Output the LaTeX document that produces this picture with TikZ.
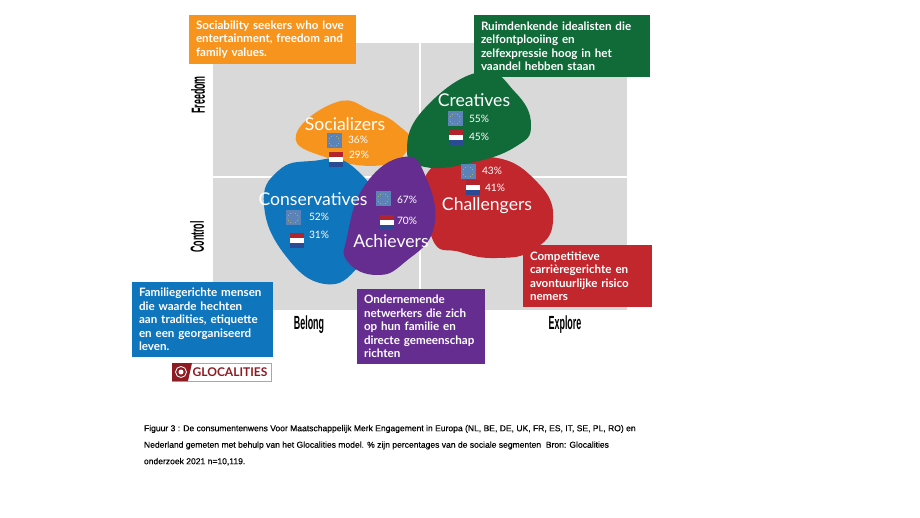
\documentclass[tikz,border=0pt]{standalone}
\usepackage{fontspec}
\setmainfont{Lato}
\newfontfamily\captionfont[FakeBold=0.35]{Liberation Sans}
\newfontfamily\axisfont{Liberation Sans}
\usetikzlibrary{calc}

\definecolor{orangeseg}{HTML}{F7941E}
\definecolor{blueseg}{HTML}{0F75BC}
\definecolor{greenseg}{HTML}{106B39}
\definecolor{redseg}{HTML}{C1272D}
\definecolor{purpleseg}{HTML}{662D91}
\definecolor{panelgrey}{HTML}{D9D9D9}
\definecolor{eublue}{HTML}{5B83B8}
\definecolor{nlred}{HTML}{B2232E}
\definecolor{nlblue}{HTML}{2B4A94}
\definecolor{logored}{HTML}{8E1B22}

\begin{document}
\begin{tikzpicture}[x=1pt, y=-1pt, every node/.style={align=center, outer sep=0pt}]

% styles
\tikzset{
  panel/.style={fill=panelgrey, draw=none},
  blob/.style={fill=#1, draw=none},
  infobox/.style={rectangle, fill=#1, text=white, anchor=north west, align=left, inner xsep=7pt, inner ysep=0pt, font=\bfseries\fontsize{11.6}{13.5}\selectfont},
  seglabel/.style={text=white, inner sep=0pt, font=\fontsize{17.6}{19}\selectfont},
  pct/.style={text=white, inner sep=0pt, font=\fontsize{10.2}{11}\selectfont},
  axislabel/.style={inner sep=0pt, text=black, font=\axisfont\bfseries\fontsize{19}{20}\selectfont},
  euflag/.pic={
    \fill[eublue] (-7.5,-7.5) rectangle (7.5,7.5);
    \foreach \a in {0,30,...,330} \fill[yellow!50!eublue] (\a:5.2) circle (0.45);
  },
  nlflag/.pic={
    \fill[nlred] (-7,-7.5) rectangle (7,-2.5);
    \fill[white] (-7,-2.5) rectangle (7,2.5);
    \fill[nlblue] (-7,2.5) rectangle (7,7.5);
  }
}

\useasboundingbox (0,0) rectangle (920,518);

% grey quadrants
\fill[panel] (213,43) rectangle (419,176);
\fill[panel] (421,43) rectangle (627,176);
\fill[panel] (213,178) rectangle (419,310);
\fill[panel] (421,178) rectangle (627,310);

% segments, back to front
\fill[blob=orangeseg] plot[smooth cycle, tension=0.8] coordinates {(296,135) (337,102) (372,111) (398,125) (410,144) (383,165) (325,157)};
\fill[blob=blueseg] plot[smooth cycle, tension=0.8] coordinates {(264,205) (278,171) (312,161) (352,166) (385,220) (360,265) (325,284) (285,255)};
\fill[blob=redseg] plot[smooth cycle, tension=0.8] coordinates {(428,172) (490,157) (538,183) (553,222) (533,250) (497,258) (460,252) (432,238)};
\fill[blob=greenseg] plot[smooth cycle, tension=0.8] coordinates {(407,150) (425,108) (480,72) (515,92) (531,125) (515,147) (470,163) (425,167)};
\fill[blob=purpleseg] plot[smooth cycle, tension=0.8] coordinates {(403,157) (425,175) (434,227) (405,262) (377,275) (348,262) (347,237) (365,185)};

% segment names
\node[seglabel] (socializers) at (345,124) {Socializers};
\node[seglabel] (creatives) at (474,100) {Creatives};
\node[seglabel] (challengers) at (487,206) {Challengers};
\node[seglabel] (achievers) at (391,241) {Achievers};
\node[seglabel] (conservatives) at (313,199) {Conservatives};

% flags and percentages
\pic at (334,141) {euflag};
\pic at (336,160) {nlflag};
\node[pct] (soceu) at (358,140) {36\%};
\node[pct] (socnl) at (359,155) {29\%};

\pic at (455,119) {euflag};
\pic at (456,138) {nlflag};
\node[pct] (creeu) at (479,119) {55\%};
\node[pct] (crenl) at (479,137) {45\%};

\pic at (468,172) {euflag};
\pic at (473,188) {nlflag};
\node[pct] (chaeu) at (492,171) {43\%};
\node[pct] (chanl) at (495,188) {41\%};

\pic at (383,199) {euflag};
\pic at (387,223) {nlflag};
\node[pct] (acheu) at (407,200) {67\%};
\node[pct] (achnl) at (407,221) {70\%};

\pic at (293,218) {euflag};
\pic at (297,241) {nlflag};
\node[pct] (coneu) at (319,217) {52\%};
\node[pct] (connl) at (319,235) {31\%};

% description boxes
\node[infobox=orangeseg, text width=153pt, minimum height=49pt] (socbox) at (189,15) {Sociability seekers who love\\entertainment, freedom and\\family values.};
\node[infobox=greenseg, text width=162pt, minimum height=62pt] (crebox) at (474,15) {Ruimdenkende idealisten die\\zelfontplooiing en\\zelfexpressie hoog in het\\vaandel hebben staan};
\node[infobox=blueseg, text width=127pt, minimum height=75pt] (conbox) at (132,282) {Familiegerichte mensen\\die waarde hechten\\aan tradities, etiquette\\en een georganiseerd\\leven.};
\node[infobox=purpleseg, text width=114pt, minimum height=75pt] (achbox) at (357,289) {Ondernemende\\netwerkers die zich\\op hun familie en\\directe gemeenschap\\richten};
\node[infobox=redseg, text width=115pt, minimum height=62pt] (chabox) at (523,245) {Competitieve\\carrièregerichte en\\avontuurlijke risico\\nemers};

% axis labels
\node[axislabel, rotate=90] (freedom) at (198,95) {\scalebox{0.47}[1]{Freedom}};
\node[axislabel, rotate=90] (control) at (197,237) {\scalebox{0.47}[1]{Control}};
\node[axislabel] (belong) at (309,325) {\scalebox{0.47}[1]{Belong}};
\node[axislabel] (explore) at (565,325) {\scalebox{0.47}[1]{Explore}};

% logo
\draw[draw=logored!45, fill=white] (172,363) rectangle (271,381);
\fill[logored] (172,363) -- (192,363) -- (188,381) -- (172,381) -- cycle;
\draw[white, line width=0.8pt] (181,372) circle (5.5);
\fill[white] (181,372) circle (2.5);
\node[inner sep=0pt, text=logored, font=\bfseries\fontsize{12}{13}\selectfont] (logo) at (230,372) {GLOCALITIES};

% caption
\node[anchor=north west, align=left, inner sep=0pt, font=\captionfont\fontsize{8.55}{16.5}\selectfont] (caption) at (144,425) {Figuur 3 : De consumentenwens Voor Maatschappelijk Merk Engagement in Europa (NL, BE, DE, UK, FR, ES, IT, SE, PL, RO) en\\Nederland gemeten met behulp van het Glocalities model. \% zijn percentages van de sociale segmenten\ \ Bron: Glocalities\\onderzoek 2021 n=10,119.};

\end{tikzpicture}
\end{document}
